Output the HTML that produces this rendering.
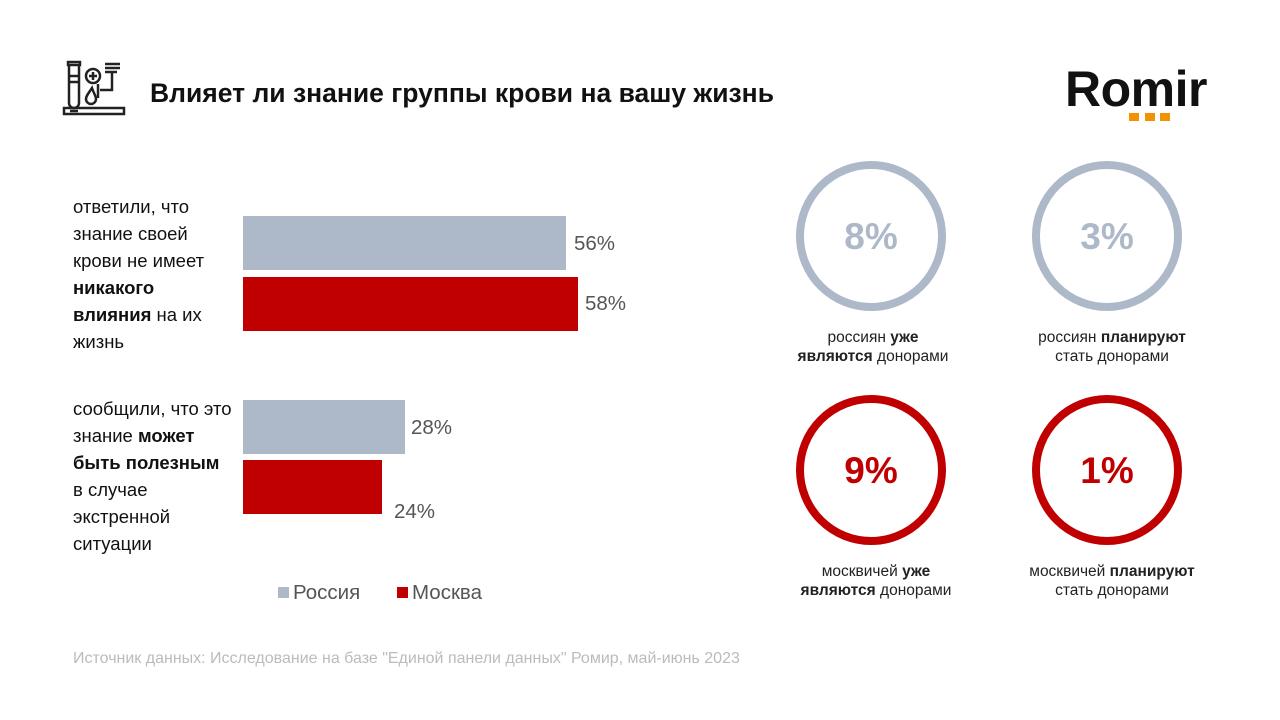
<!DOCTYPE html>
<html><head><meta charset="utf-8"><style>
body{margin:0;width:1280px;height:720px;background:#fff;overflow:hidden;position:relative;font-family:"Liberation Sans",Arial,sans-serif;}
.a{position:absolute;white-space:nowrap}
.lt{left:73px;font-size:18.5px;color:#111;line-height:27px}
.v{font-size:20.5px;color:#555}
.cap{font-size:15.5px;color:#222;text-align:center;width:240px;line-height:19px}
</style></head><body>
<svg class="a" style="left:60px;top:58px" width="70" height="64" viewBox="0 0 70 64" fill="none" stroke="#222" stroke-width="2.5">
<rect x="8" y="4" width="12" height="3"/><path d="M9 7v38a5 5 0 0 0 10 0V7"/><path d="M9 18h10M9 24h10"/>
<circle cx="33" cy="18" r="7"/><path d="M33 14v8M29 18h8"/>
<path d="M38 26v14M45 6h15M45 10h15M45 14h12M52 14v18H40"/>
<path d="M32 30c-4 6-6 8-6 11a5 5 0 0 0 10 0c0-3-2-5-4-11z"/>
<path d="M4 50h60v6H4z"/><path d="M10 53h8"/>
</svg>
<div class="a" style="left:150px;top:78px;font-size:26.5px;font-weight:bold;color:#111">Влияет ли знание группы крови на вашу жизнь</div>
<div class="a" style="left:1065px;top:60px;font-size:50px;font-weight:bold;color:#111;letter-spacing:-0.5px">Romir</div>
<div class="a" style="left:1129px;top:113px;width:10px;height:8px;background:#f39200"></div>
<div class="a" style="left:1145px;top:113px;width:10px;height:8px;background:#f39200"></div>
<div class="a" style="left:1160px;top:113px;width:10px;height:8px;background:#f39200"></div>

<div class="a lt" style="top:193px">ответили, что<br>знание своей<br>крови не имеет<br><b>никакого</b><br><b>влияния</b> на их<br>жизнь</div>
<div class="a lt" style="top:395px">сообщили, что это<br>знание <b>может</b><br><b>быть полезным</b><br>в случае<br>экстренной<br>ситуации</div>

<div class="a" style="left:243px;top:216px;width:323px;height:54px;background:#adb9c9"></div>
<div class="a" style="left:243px;top:277px;width:335px;height:54px;background:#c00000"></div>
<div class="a" style="left:243px;top:400px;width:162px;height:54px;background:#adb9c9"></div>
<div class="a" style="left:243px;top:460px;width:139px;height:54px;background:#c00000"></div>
<div class="a v" style="left:574px;top:232px">56%</div>
<div class="a v" style="left:585px;top:292px">58%</div>
<div class="a v" style="left:411px;top:416px">28%</div>
<div class="a v" style="left:394px;top:500px">24%</div>

<div class="a" style="left:278px;top:587px;width:11px;height:11px;background:#adb9c9"></div>
<div class="a v" style="left:293px;top:581px">Россия</div>
<div class="a" style="left:397px;top:587px;width:11px;height:11px;background:#c00000"></div>
<div class="a v" style="left:412px;top:581px">Москва</div>

<svg class="a" style="left:0;top:0" width="1280" height="720">
<g fill="none" stroke-width="8">
<circle cx="871" cy="236" r="71" stroke="#adb9c9"/>
<circle cx="1107" cy="236" r="71" stroke="#adb9c9"/>
<circle cx="871" cy="470" r="71" stroke="#c00000"/>
<circle cx="1107" cy="470" r="71" stroke="#c00000"/>
</g>
<g font-family="Liberation Sans,Arial,sans-serif" font-size="37" font-weight="bold" text-anchor="middle">
<text x="871" y="249" fill="#adb9c9">8%</text>
<text x="1107" y="249" fill="#adb9c9">3%</text>
<text x="871" y="483" fill="#c00000">9%</text>
<text x="1107" y="483" fill="#c00000">1%</text>
</g></svg>
<div class="a cap" style="left:753px;top:328px">россиян <b>уже</b><br><b>являются</b> донорами</div>
<div class="a cap" style="left:992px;top:328px">россиян <b>планируют</b><br>стать донорами</div>
<div class="a cap" style="left:756px;top:562px">москвичей <b>уже</b><br><b>являются</b> донорами</div>
<div class="a cap" style="left:992px;top:562px">москвичей <b>планируют</b><br>стать донорами</div>

<div class="a" style="left:73px;top:650px;font-size:16px;color:#bbb">Источник данных: Исследование на базе "Единой панели данных" Ромир, май-июнь 2023</div>
</body></html>
